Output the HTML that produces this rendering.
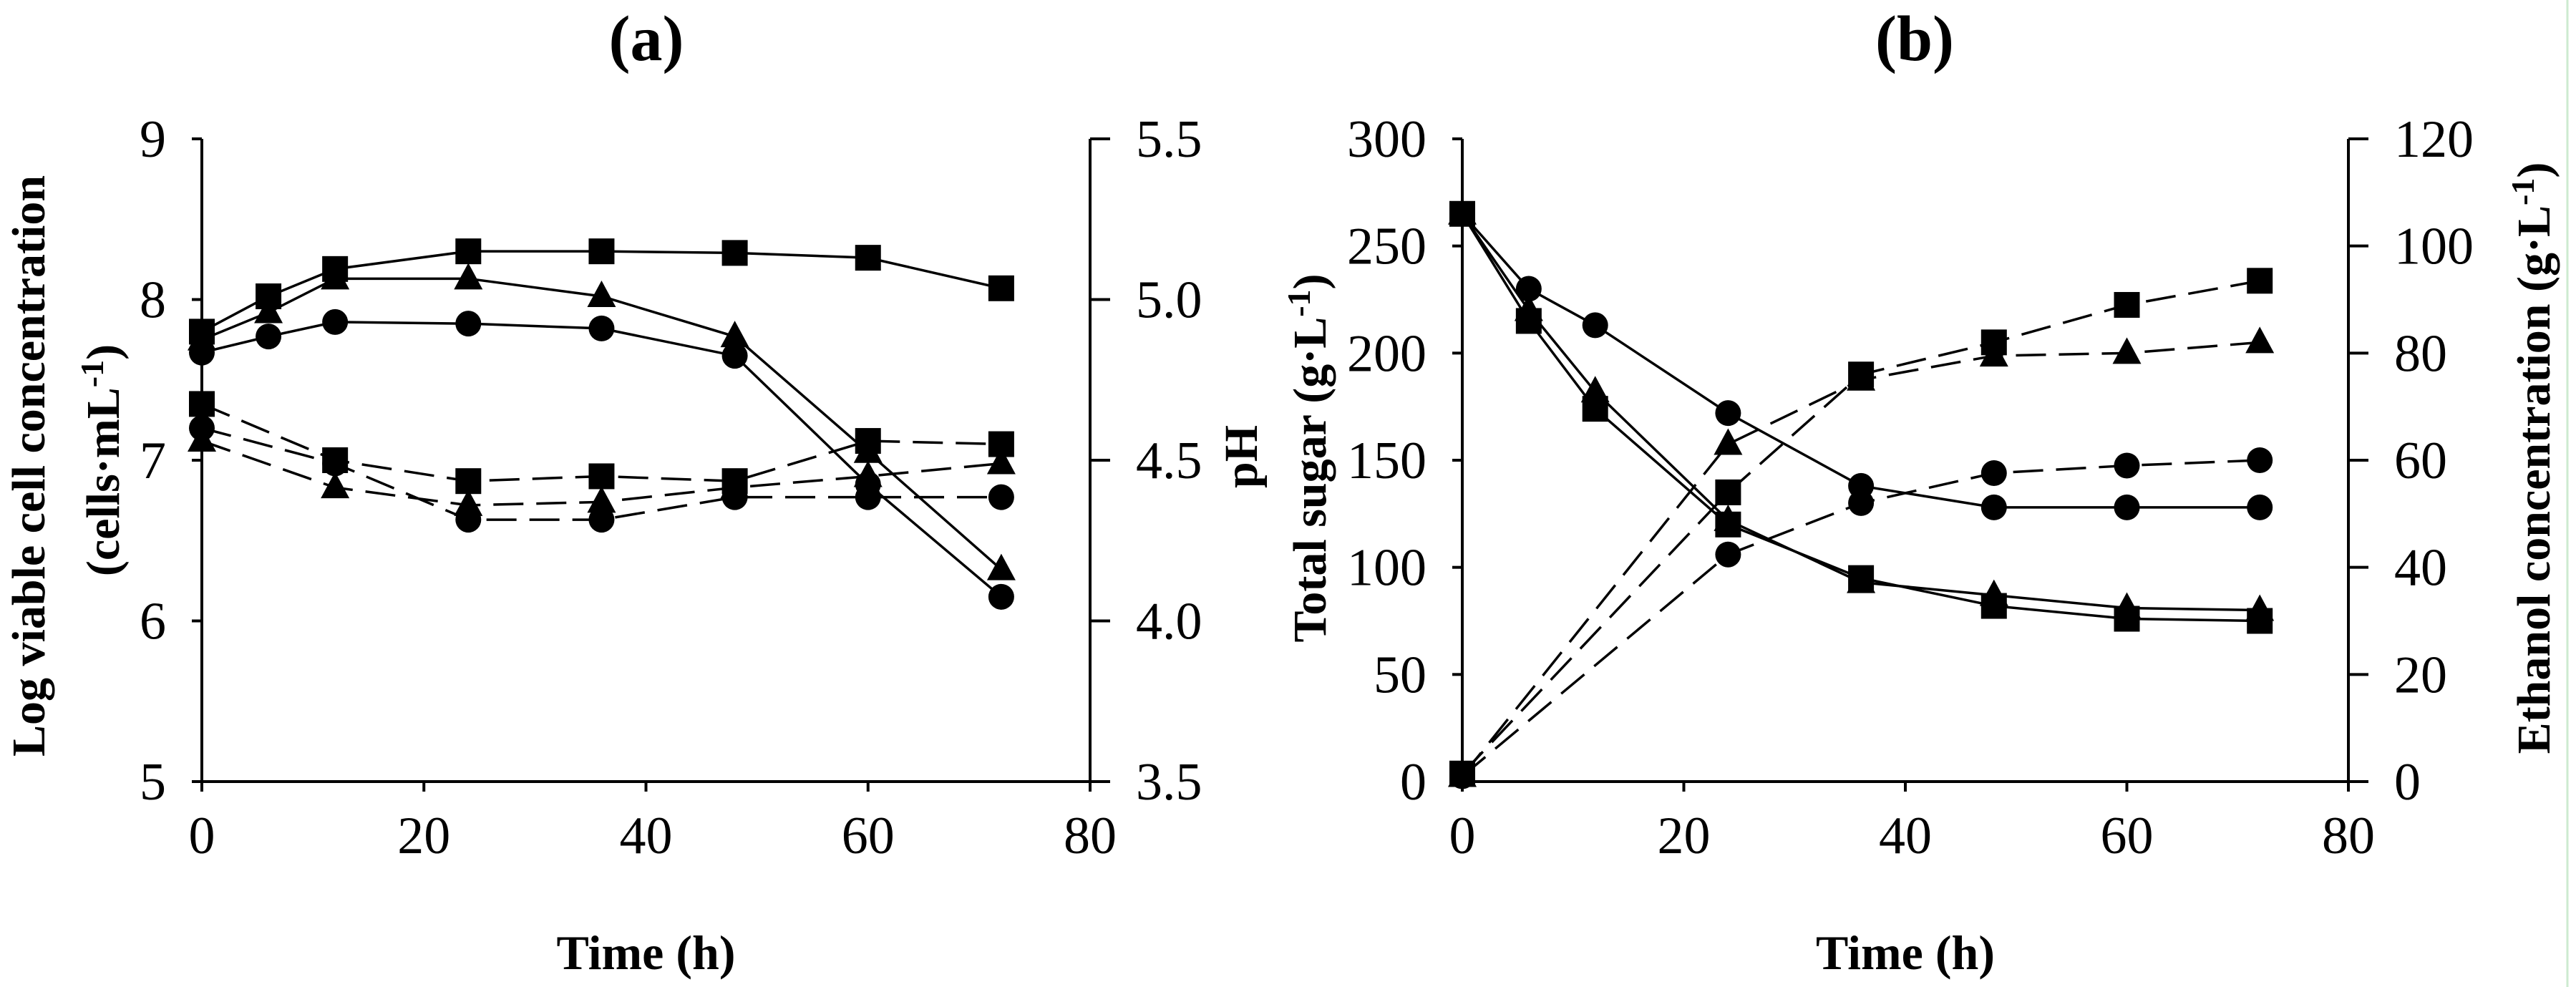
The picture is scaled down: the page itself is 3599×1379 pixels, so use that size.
<!DOCTYPE html>
<html><head><meta charset="utf-8"><style>
html,body{margin:0;padding:0;background:#fff;}
svg{display:block;}
text{font-family:"Liberation Serif",serif;fill:#000;}
</style></head><body>
<svg id="fig" width="3599" height="1379" viewBox="0 0 3599 1379" xmlns="http://www.w3.org/2000/svg">
<line x1="3587" y1="0" x2="3587" y2="1379" stroke="#cdebd0" stroke-width="3"/>
</svg>
<script>
const times=[0,6,12,24,36,48,60,72];
const timesPH=[0,12,24,36,48,60,72];
const timesEth=[0,24,36,48,60,72];
const xTicks=[0,20,40,60,80];
// panel a
const cellSquare=[7.80,8.02,8.19,8.30,8.30,8.29,8.26,8.07];
const cellTriangle=[7.75,7.92,8.13,8.13,8.02,7.77,7.05,6.32];
const cellCircle=[7.67,7.77,7.86,7.85,7.82,7.65,6.85,6.15];
const phSquare=[4.675,4.50,4.435,4.45,4.435,4.56,4.55];
const phTriangle=[4.56,4.415,4.36,4.37,4.415,4.45,4.49];
const phCircle=[4.60,4.49,4.315,4.315,4.385,4.385,4.385];
const cellTicks=[5,6,7,8,9];
const phTicks=["3.5","4.0","4.5","5.0","5.5"];
// panel b
const sugarSquare=[265,215,174,120,95,82,76,75];
const sugarTriangle=[265,220,182,122,93,87,81,80];
const sugarCircle=[265,230,213,172,138,128,128,128];
const ethSquare=[1.5,54,76,82,89,93.5];
const ethTriangle=[1,63,75,79.5,80,82];
const ethCircle=[1,42.4,52,57.6,59,60];
const sugarTicks=[0,50,100,150,200,250,300];
const ethTicks=[0,20,40,60,80,100,120];

const NS="http://www.w3.org/2000/svg";
const svg=document.getElementById('fig');
function mk(tag,attrs,parent){const e=document.createElementNS(NS,tag);for(const k in attrs)e.setAttribute(k,attrs[k]);(parent||svg).appendChild(e);return e;}
function lin(d0,d1,r0,r1){return v=>r0+(v-d0)/(d1-d0)*(r1-r0);}

function panel(p){
  const g=mk('g',{});
  
  
  const X=lin(0,80,p.L,p.R);
  const YL=lin(p.yl[0],p.yl[1],p.B,p.T);
  const YR=lin(p.yr[0],p.yr[1],p.B,p.T);
  const ax=mk('path',{d:`M${p.L},${p.T}V${p.B}H${p.R}V${p.T}`,fill:'none',stroke:'#000','stroke-width':4},g);
  
  
  xTicks.forEach(v=>{
    const t=mk('line',{x1:X(v),x2:X(v),y1:p.B,y2:p.B+14,stroke:'#000','stroke-width':4},g);
    
    
    const l=mk('text',{x:X(v),y:p.B+100,'font-size':74,'text-anchor':'middle'},g);l.textContent=v;
    
    
  });
  p.ylTicks.forEach(v=>{
    const y=YL(+v);
    const t=mk('line',{x1:p.L-14,x2:p.L,y1:y,y2:y,stroke:'#000','stroke-width':4},g);
    
    
    const l=mk('text',{x:p.L-50,y:y+25,'font-size':74,'text-anchor':'end'},g);l.textContent=v;
    
    
  });
  p.yrTicks.forEach(v=>{
    const y=YR(+v);
    const t=mk('line',{x1:p.R,x2:p.R+28,y1:y,y2:y,stroke:'#000','stroke-width':4},g);
    
    
    const l=mk('text',{x:p.R+64,y:y+25,'font-size':74,'text-anchor':'start'},g);l.textContent=v;
    
    
  });
  p.series.forEach(s=>{
    const Y=s.axis==='L'?YL:YR;
    const pts=s.x.map((t,i)=>[X(t),Y(s.y[i])]);
    const pl=mk('polyline',{points:pts.map(q=>q.join(',')).join(' '),fill:'none',stroke:'#000','stroke-width':3.5},g);
    if(s.dash)pl.setAttribute('stroke-dasharray','42,18');
    
    
    pts.forEach(([x,y])=>{
      let m;
      if(s.m==='sq')m=mk('rect',{x:x-18,y:y-18,width:36,height:36,fill:'#000'},g);
      else if(s.m==='ci')m=mk('circle',{cx:x,cy:y,r:18,fill:'#000'},g);
      else m=mk('polygon',{points:`${x},${y-22} ${x+20},${y+15} ${x-20},${y+15}`,fill:'#000'},g);
      
      
    });
  });
  const tt=mk('text',{x:p.titleX,y:84,'font-size':90,'font-weight':'bold','text-anchor':'middle'},g);tt.textContent=p.title;
  
  
  const xl=mk('text',{x:(p.L+p.R)/2,y:1354,'font-size':68,'font-weight':'bold','text-anchor':'middle'},g);xl.textContent='Time (h)';
  
  
  return g;
}

const ga=panel({name:'panel-a',title:'(a)',titleX:903,L:282,R:1523,T:194,B:1092,yl:[5,9],yr:[3.5,5.5],ylTicks:cellTicks,yrTicks:phTicks,
 series:[
  {name:'cell-square',x:times,y:cellSquare,axis:'L',m:'sq'},
  {name:'cell-triangle',x:times,y:cellTriangle,axis:'L',m:'tr'},
  {name:'cell-circle',x:times,y:cellCircle,axis:'L',m:'ci'},
  {name:'ph-square',x:timesPH,y:phSquare,axis:'R',m:'sq',dash:1},
  {name:'ph-triangle',x:timesPH,y:phTriangle,axis:'R',m:'tr',dash:1},
  {name:'ph-circle',x:timesPH,y:phCircle,axis:'R',m:'ci',dash:1}]});
let t=mk('text',{transform:'translate(62,651) rotate(-90)','font-size':66,'font-weight':'bold','text-anchor':'middle'},ga);
t.textContent='Log viable cell concentration';


t=mk('text',{transform:'translate(166,643) rotate(-90)','font-size':66,'font-weight':'bold','text-anchor':'middle'},ga);
t.innerHTML='(cells·mL<tspan font-size="46" dy="-22">-1</tspan><tspan dy="22">)</tspan>';


t=mk('text',{transform:'translate(1756,638) rotate(-90)','font-size':66,'font-weight':'bold','text-anchor':'middle'},ga);
t.textContent='pH';



const gb=panel({name:'panel-b',title:'(b)',titleX:2675,L:2043,R:3281,T:194,B:1092,yl:[0,300],yr:[0,120],ylTicks:sugarTicks,yrTicks:ethTicks,
 series:[
  {name:'sugar-square',x:times,y:sugarSquare,axis:'L',m:'sq'},
  {name:'sugar-triangle',x:times,y:sugarTriangle,axis:'L',m:'tr'},
  {name:'sugar-circle',x:times,y:sugarCircle,axis:'L',m:'ci'},
  {name:'ethanol-square',x:timesEth,y:ethSquare,axis:'R',m:'sq',dash:1},
  {name:'ethanol-triangle',x:timesEth,y:ethTriangle,axis:'R',m:'tr',dash:1},
  {name:'ethanol-circle',x:timesEth,y:ethCircle,axis:'R',m:'ci',dash:1}]});
t=mk('text',{transform:'translate(1852,640) rotate(-90)','font-size':66,'font-weight':'bold','text-anchor':'middle',fill:'#2a0a0a'},gb);
t.innerHTML='Total sugar (g·L<tspan font-size="46" dy="-22">-1</tspan><tspan dy="22">)</tspan>';


t=mk('text',{transform:'translate(3562,640) rotate(-90)','font-size':66,'font-weight':'bold','text-anchor':'middle'},gb);
t.innerHTML='Ethanol concentration (g·L<tspan font-size="46" dy="-22">-1</tspan><tspan dy="22">)</tspan>';


</script>
</body></html>
